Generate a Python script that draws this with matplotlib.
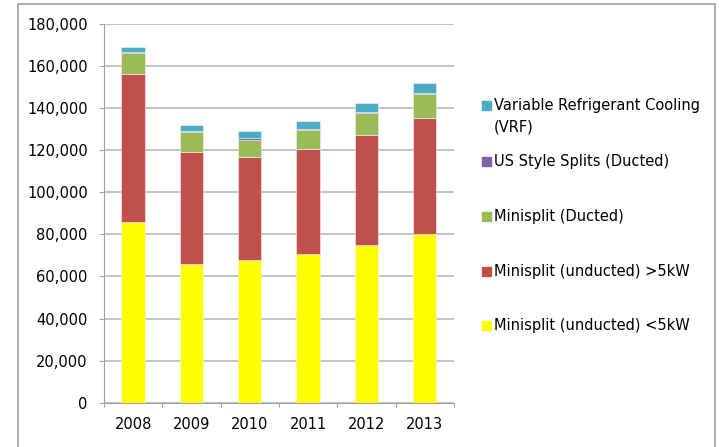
import numpy as np
import matplotlib
matplotlib.use("Agg")
import matplotlib.pyplot as plt
from matplotlib.patches import Rectangle
from matplotlib.ticker import FuncFormatter

# 연도별 판매량
years = ["2008", "2009", "2010", "2011", "2012", "2013"]
mini_lt5 = [86000, 66000, 68000, 70800, 75000, 80300]
mini_gt5 = [70000, 53000, 49000, 50000, 52300, 55200]
mini_ducted = [10000, 9500, 8000, 9000, 10400, 11200]
us_splits = [700, 700, 700, 500, 700, 600]
vrf = [2300, 2700, 3300, 3600, 4100, 4700]

names = ["Minisplit (unducted) <5kW", "Minisplit (unducted) >5kW",
         "Minisplit (Ducted)", "US Style Splits (Ducted)",
         "Variable Refrigerant Cooling\n(VRF)"]
colors = ["#FFFF00", "#C0504D", "#9BBB59", "#8064A2", "#4BACC6"]
series = [mini_lt5, mini_gt5, mini_ducted, us_splits, vrf]

plt.rcParams['font.family'] = ['DejaVu Sans']

fig = plt.figure(figsize=(7.19, 4.47), dpi=100)
ax = fig.add_axes([0.1446, 0.0991, 0.4868, 0.8472])

x = np.arange(len(years))
bottom = np.zeros(len(years))
for vals, c in zip(series, colors):
    ax.bar(x, vals, 0.4, bottom=bottom, color=c, edgecolor="#f4f4f4", linewidth=0.4, zorder=3)
    bottom += np.array(vals)

ax.set_ylim(0, 180000)
ax.set_yticks(np.arange(0, 180001, 20000))
ax.yaxis.set_major_formatter(FuncFormatter(lambda v, p: f"{int(v):,}"))
ax.set_xlim(-0.5, 5.5)
ax.set_xticks(np.arange(-0.5, 6, 1))
ax.set_xticklabels([])
ax.set_xticks(x, minor=True)
ax.set_xticklabels(years, minor=True)

ax.grid(axis="y", color="#b4b4b4", linewidth=1.1, zorder=0)
for s in ["top", "right"]:
    ax.spines[s].set_visible(False)
for s in ["left", "bottom"]:
    ax.spines[s].set_color("#a0a0a0")
ax.tick_params(axis="y", length=3.6, color="#a0a0a0", pad=8, labelsize=10.5)
ax.tick_params(axis="x", which="major", length=3, color="#a0a0a0")
ax.tick_params(axis="x", which="minor", length=0, pad=10, labelsize=10.5)

# 범례 (위에서부터 VRF 순서)
leg_y = [105, 161, 216, 271, 325]
for name, c, yy in zip(names[::-1], colors[::-1], leg_y):
    fig.add_artist(Rectangle((482 / 719, 1 - (yy + 4.5) / 447), 8.5 / 719, 9 / 447,
                             transform=fig.transFigure, color=c))
    fig.text(494 / 719, 1 - (yy - 7) / 447, name, fontsize=10.5, va="top",
             ha="left", linespacing=1.5)

# 바깥 테두리
fig.add_artist(Rectangle((18 / 719, -0.05), 697 / 719, 1.05 - 4 / 447,
                         transform=fig.transFigure, fill=False,
                         edgecolor="#a0a0a0", linewidth=1.2))

fig.savefig("out.png", dpi=100)
